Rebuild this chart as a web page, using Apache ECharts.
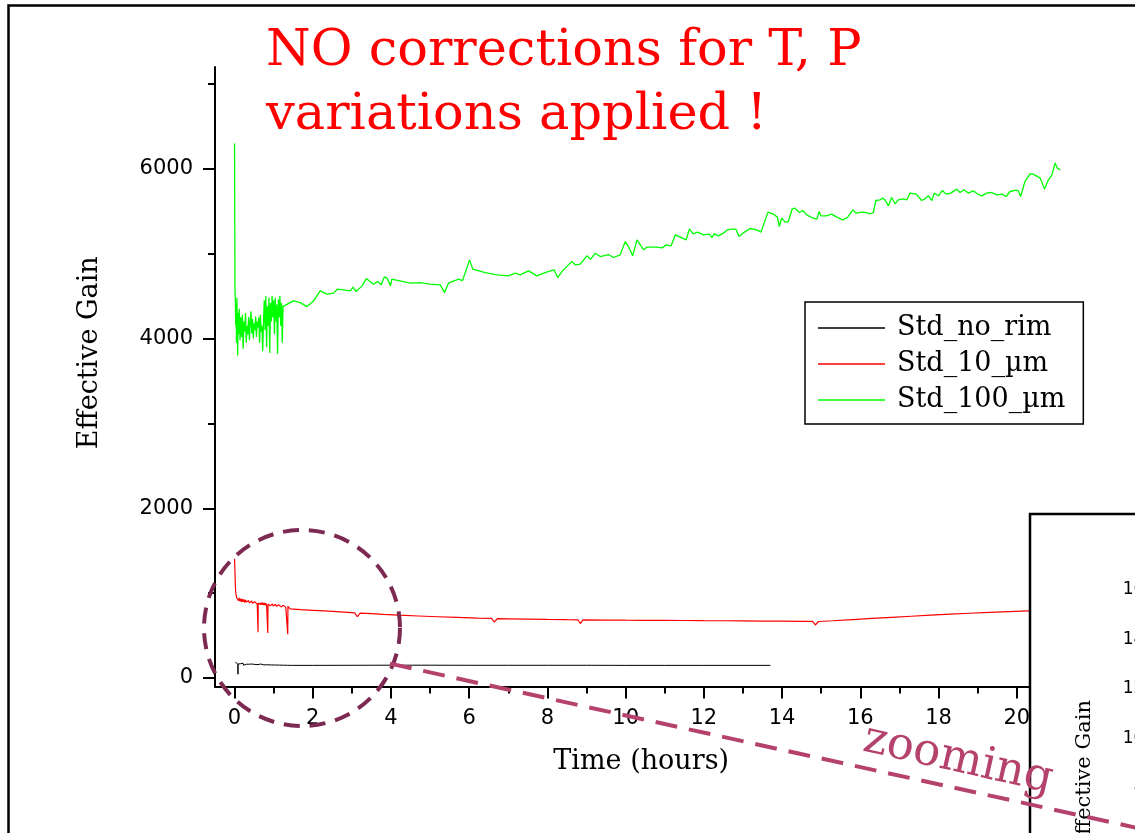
<!DOCTYPE html>
<html>
<head>
<meta charset="utf-8">
<script src="https://cdn.jsdelivr.net/npm/echarts@6/dist/echarts.min.js"></script>
<style>
  html, body { margin: 0; padding: 0; background: #fff; }
  #chart { width: 1135px; height: 833px; }
</style>
</head>
<body>
<div id="chart"></div>
<script>
// Axis ticks
const timeTicks = [0, 2, 4, 6, 8, 10, 12, 14, 16, 18, 20];
const timeMinorTicks = [1, 3, 5, 7, 9, 11, 13, 15, 17, 19];
const gainTicks = [0, 2000, 4000, 6000];
const gainMinorTicks = [1000, 3000, 5000, 7000];
const insetGainTicks = ['1600', '1400', '1200', '1000', '800'];

const seriesNames = ['Std_no_rim', 'Std_10_\u00b5m', 'Std_100_\u00b5m'];

// [time (hours), effective gain]
const seriesNoRim = [
  [0.02,190],[0.03,178],[0.04,172],[0.05,168],[0.07,175],[0.085,160],[0.087,45],[0.09,165],
  [0.11,170],[0.13,162],[0.15,168],[0.18,158],[0.2,165],[0.22,175],[0.23,150],[0.24,165],
  [0.27,160],[0.3,163],[0.33,155],[0.36,162],[0.4,158],[0.43,165],[0.45,148],[0.46,168],
  [0.48,158],[0.52,160],[0.56,155],[0.6,158],[0.64,152],[0.67,165],[0.68,145],[0.7,157],
  [0.75,155],[0.8,153],[0.85,156],[0.9,151],[0.95,154],[1.0,150],[1.05,153],[1.1,149],
  [1.15,152],[1.2,150],[1.25,151],[1.3,148],[1.35,150],[1.4,147],[1.45,149],[1.5,148],
  [2,149],[3,150],[4,151],[5,151],[6,150],[7,150],[8,150],[9,150],[10,149],[11,149],
  [12,149],[13,149],[13.7,149]
];

const seriesRim10 = [
  [0,1404],[0.01,1260],[0.02,1090],[0.03,1010],[0.04,975],[0.05,955],[0.06,940],[0.08,960],
  [0.1,910],[0.12,945],[0.14,905],[0.16,935],[0.18,895],[0.2,930],[0.22,900],[0.24,925],
  [0.26,890],[0.28,920],[0.3,895],[0.32,915],[0.34,880],[0.36,912],[0.38,885],[0.4,905],
  [0.42,878],[0.44,908],[0.46,880],[0.48,900],[0.5,872],[0.52,898],[0.54,875],[0.56,895],
  [0.58,870],[0.595,880],[0.6,540],[0.605,885],[0.62,868],[0.64,892],[0.66,866],[0.68,890],
  [0.7,862],[0.72,888],[0.74,860],[0.76,885],[0.78,858],[0.8,882],[0.82,856],[0.845,878],
  [0.85,530],[0.855,870],[0.87,855],[0.89,878],[0.91,852],[0.93,875],[0.95,850],[0.97,872],
  [0.99,848],[1.01,870],[1.03,846],[1.05,868],[1.07,844],[1.09,865],[1.11,842],[1.13,862],
  [1.15,840],[1.17,860],[1.19,838],[1.21,858],[1.23,836],[1.25,856],[1.27,834],[1.29,852],
  [1.31,832],[1.33,850],[1.355,834],[1.36,515],[1.365,845],[1.38,830],[1.4,845],[1.42,815],
  [1.45,812],[1.7,806],[2.0,798],[2.3,790],[2.6,782],[2.9,773],[3.07,768],[3.14,722],
  [3.21,765],[3.5,758],[3.8,750],[4.2,740],[4.7,731],[5.2,722],[5.7,714],[6.2,706],
  [6.57,702],[6.64,660],[6.72,700],[7.0,698],[7.5,694],[8.0,690],[8.5,687],[8.78,686],
  [8.84,642],[8.91,685],[9.5,683],[10.0,681],[10.5,680],[11.0,679],[11.5,678],[12.0,676],
  [12.5,675],[13.0,673],[13.5,671],[14.0,670],[14.5,668],[14.78,667],[14.85,625],[14.93,666],
  [15.3,675],[15.8,688],[16.3,702],[16.8,715],[17.3,728],[17.8,740],[18.3,752],[18.8,763],
  [19.3,773],[19.8,782],[20.3,791],[21.4,805]
];

const seriesRim100 = [
  [0,6300],[0.01,4600],[0.02,4450],[0.03,4150],[0.04,4400],[0.05,3950],[0.06,4480],[0.07,4100],
  [0.08,3800],[0.09,4300],[0.1,4050],[0.12,4350],[0.14,3980],[0.16,4250],[0.18,4020],[0.2,4280],
  [0.22,3880],[0.24,4200],[0.26,4080],[0.28,4300],[0.3,3950],[0.32,4150],[0.34,4050],[0.36,4250],
  [0.38,3980],[0.4,4200],[0.42,4320],[0.44,4060],[0.46,4230],[0.48,4000],[0.5,4180],[0.52,4100],
  [0.54,4260],[0.56,4020],[0.58,4200],[0.6,4130],[0.62,4250],[0.64,3950],[0.66,4280],[0.68,4080],
  [0.7,4150],[0.72,3850],[0.74,4200],[0.76,4450],[0.78,4100],[0.8,4500],[0.82,3900],[0.84,4380],
  [0.86,4150],[0.88,4480],[0.9,3830],[0.92,4420],[0.94,4200],[0.96,4500],[0.98,4250],[1.0,4450],
  [1.02,4050],[1.04,4480],[1.06,4200],[1.08,4400],[1.1,3820],[1.12,4460],[1.14,4250],[1.16,4500],
  [1.18,4150],[1.2,4420],[1.22,3950],[1.24,4380],[1.25,4377],
  [1.51,4444],[1.68,4424],[1.85,4377],[2.02,4444],[2.19,4562],[2.36,4523],[2.53,4535],[2.63,4582],
  [2.96,4562],[3.03,4606],[3.11,4554],[3.26,4621],[3.37,4707],[3.55,4641],[3.66,4672],[3.75,4633],
  [3.83,4727],[3.9,4712],[3.99,4621],[4.02,4700],[4.49,4653],[4.75,4660],[5.0,4641],[5.26,4633],
  [5.37,4542],[5.47,4653],[5.73,4700],[5.83,4684],[6.01,4927],[6.09,4818],[6.41,4778],[6.71,4751],
  [7.0,4739],[7.18,4771],[7.3,4751],[7.52,4798],[7.73,4739],[7.94,4778],[8.17,4810],[8.26,4719],
  [8.39,4801],[8.62,4907],[8.71,4869],[8.84,4877],[9.01,4975],[9.11,4936],[9.22,5006],[9.35,4966],
  [9.56,4990],[9.69,4955],[9.86,4986],[9.99,5143],[10.07,5084],[10.18,4975],[10.29,5163],[10.46,5045],
  [10.54,5077],[10.8,5077],[10.93,5069],[11.04,5104],[11.16,5092],[11.27,5222],[11.55,5163],[11.63,5293],
  [11.73,5234],[11.84,5254],[11.99,5222],[12.14,5230],[12.21,5191],[12.26,5234],[12.37,5210],[12.5,5242],
  [12.6,5281],[12.7,5289],[12.82,5289],[12.9,5202],[13.0,5242],[13.18,5297],[13.35,5281],[13.46,5254],
  [13.54,5360],[13.64,5490],[13.78,5466],[13.88,5431],[13.93,5320],[13.99,5419],[14.08,5372],[14.16,5379],
  [14.26,5529],[14.33,5537],[14.44,5485],[14.53,5509],[14.63,5458],[14.76,5426],[14.89,5407],[14.95,5497],
  [14.99,5446],[15.13,5446],[15.27,5466],[15.4,5431],[15.55,5399],[15.67,5426],[15.81,5517],[15.89,5478],
  [16.04,5490],[16.15,5485],[16.25,5470],[16.33,5485],[16.4,5627],[16.51,5635],[16.57,5655],[16.63,5635],
  [16.72,5564],[16.8,5662],[16.89,5588],[16.97,5635],[17.1,5647],[17.19,5635],[17.27,5714],[17.43,5702],
  [17.57,5627],[17.64,5643],[17.74,5682],[17.83,5627],[17.89,5714],[18.0,5682],[18.1,5745],[18.19,5702],
  [18.31,5714],[18.47,5761],[18.55,5721],[18.65,5753],[18.76,5714],[18.89,5741],[18.99,5706],[19.11,5682],
  [19.23,5714],[19.36,5721],[19.49,5694],[19.62,5702],[19.66,5721],[19.73,5674],[19.83,5733],[19.98,5749],
  [20.04,5741],[20.1,5674],[20.21,5851],[20.34,5941],[20.42,5938],[20.6,5891],[20.71,5761],[20.81,5871],
  [20.9,5930],[20.98,6068],[21.04,6008],[21.11,5988]
];

const chart = echarts.init(document.getElementById('chart'), null, { renderer: 'canvas' });

const X_MIN = -0.5, X_MAX = 21.5, Y_MIN = -100, Y_MAX = 7200;
const tickFont = { fontFamily: 'DejaVu Sans', fontSize: 21, color: '#000', formatter: v => String(v) };
const serif = 'DejaVu Serif';

function lineSeries(name, data, color, width) {
  return {
    name, type: 'line', data, symbol: 'none', showSymbol: false,
    xAxisIndex: 0, yAxisIndex: 0, animation: false,
    lineStyle: { color, width }, itemStyle: { color },
    emphasis: { disabled: true }
  };
}

// Inset panel labels
const insetTop = 590, insetStep = 49.5;
const insetLabels = insetGainTicks.map((t, i) => ({
  type: 'text', x: 1166, y: insetTop + i * insetStep, z: 105,
  style: { text: t, font: '17px "DejaVu Sans"', fill: '#000',
           align: 'right', verticalAlign: 'middle', textAlign: 'right', textVerticalAlign: 'middle' }
}));

chart.setOption({
  animation: false,
  backgroundColor: '#fff',
  grid: { left: 215, top: 67, right: 59.6, bottom: 146.5, containLabel: false },
  xAxis: [{
    type: 'value', min: X_MIN, max: X_MAX, position: 'bottom',
    name: 'Time (hours)', nameLocation: 'middle', nameGap: 62,
    nameTextStyle: { fontFamily: serif, fontSize: 27, color: '#000', padding: [0, 8, 0, 0] },
    axisLine: { show: true, onZero: false, lineStyle: { color: '#000', width: 2 } },
    axisTick: { show: true, inside: false, length: 12, customValues: timeTicks, lineStyle: { color: '#000', width: 2 } },
    axisLabel: { show: true, margin: 22, customValues: timeTicks, ...tickFont },
    splitLine: { show: false }
  }, {
    type: 'value', min: X_MIN, max: X_MAX, position: 'bottom',
    axisLine: { show: false, onZero: false },
    axisTick: { show: true, inside: false, length: 7, customValues: timeMinorTicks, lineStyle: { color: '#000', width: 2 } },
    axisLabel: { show: false },
    splitLine: { show: false }
  }],
  yAxis: [{
    type: 'value', min: Y_MIN, max: Y_MAX, position: 'left',
    name: 'Effective Gain', nameLocation: 'middle', nameGap: 112,
    nameTextStyle: { fontFamily: serif, fontSize: 27, color: '#000', padding: [0, 0, 0, 48] },
    axisLine: { show: true, onZero: false, lineStyle: { color: '#000', width: 2 } },
    axisTick: { show: true, inside: false, length: 12, customValues: gainTicks, lineStyle: { color: '#000', width: 2 } },
    axisLabel: { show: true, margin: 22, customValues: gainTicks, ...tickFont },
    splitLine: { show: false }
  }, {
    type: 'value', min: Y_MIN, max: Y_MAX, position: 'left',
    axisLine: { show: false, onZero: false },
    axisTick: { show: true, inside: false, length: 7, customValues: gainMinorTicks, lineStyle: { color: '#000', width: 2 } },
    axisLabel: { show: false },
    splitLine: { show: false }
  }],
  legend: {
    orient: 'vertical', left: 805, top: 302,
    data: seriesNames,
    icon: 'rect', itemWidth: 67, itemHeight: 1.5, itemGap: 8,
    padding: [12, 18, 10, 13],
    borderColor: '#000', borderWidth: 1.5, backgroundColor: '#fff',
    selectedMode: false,
    textStyle: { fontFamily: serif, fontSize: 27, color: '#000', lineHeight: 28, padding: [0, 0, 0, 7] }
  },
  series: [
    lineSeries(seriesNames[0], seriesNoRim, '#000000', 1),
    lineSeries(seriesNames[1], seriesRim10, '#ff0000', 1.2),
    lineSeries(seriesNames[2], seriesRim100, '#00ff00', 1.3)
  ],
  graphic: [
    // slide frame
    { type: 'rect', z: 1, silent: true,
      shape: { x: 8.5, y: 5.5, width: 1300, height: 1000 },
      style: { fill: null, stroke: '#000', lineWidth: 2.5 } },
    // headline
    { type: 'text', x: 266, y: 20, z: 50,
      style: { text: 'NO corrections for T, P\nvariations applied !', font: '51px "DejaVu Serif"',
               fill: '#ff0000', lineHeight: 64 } },
    // inset panel (zoomed view), mostly beyond the page edge
    { type: 'rect', z: 100, silent: true,
      shape: { x: 1030, y: 514, width: 300, height: 400 },
      style: { fill: '#fff', stroke: '#000', lineWidth: 2.5 } },
    ...insetLabels,
    { type: 'text', x: 1085, y: 700, z: 105, rotation: Math.PI / 2,
      style: { text: 'Effective Gain', font: '21px "DejaVu Serif"', fill: '#000',
               align: 'right', verticalAlign: 'middle', textAlign: 'right', textVerticalAlign: 'middle' } },
    // zoom marker
    { type: 'circle', z: 110, silent: true,
      shape: { cx: 302, cy: 628, r: 98 },
      style: { fill: null, stroke: '#7d2a52', lineWidth: 4, lineDash: [16, 10] } },
    { type: 'line', z: 110, silent: true,
      shape: { x1: 390, y1: 663.6, x2: 1140, y2: 828.6 },
      style: { stroke: '#b5426c', lineWidth: 4, lineDash: [22, 12] } },
    { type: 'text', x: 958, y: 760, z: 111, rotation: -0.22,
      style: { text: 'zooming', font: '45px "DejaVu Serif"', fill: '#b5426c',
               align: 'center', verticalAlign: 'middle', textAlign: 'center', textVerticalAlign: 'middle' } }
  ]
});
</script>
</body>
</html>
